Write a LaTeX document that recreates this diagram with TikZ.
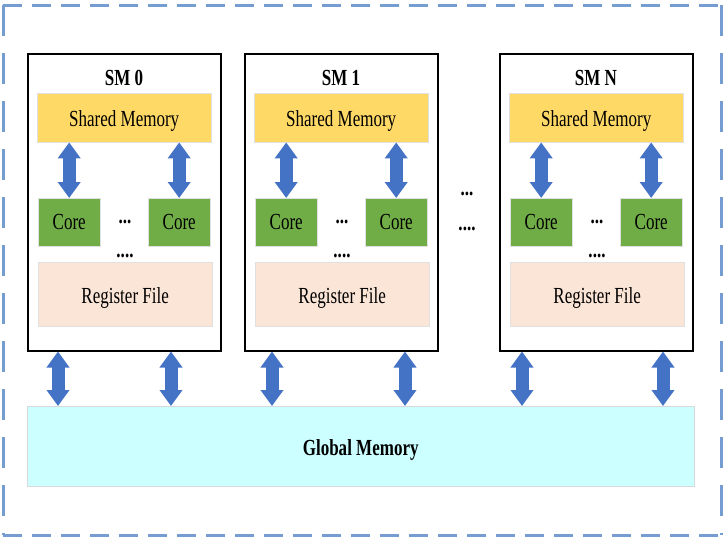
\documentclass[tikz,border=0pt]{standalone}
\usepackage{fontspec}
\setmainfont{Liberation Serif}[FakeStretch=0.74]
\usepackage{xcolor}
\usepackage{tikz}
\usetikzlibrary{positioning,calc,arrows.meta}
\definecolor{dashblue}{RGB}{117,157,209}
\definecolor{arrowblue}{RGB}{68,114,196}
\definecolor{shyellow}{RGB}{255,217,102}
\definecolor{coregreen}{RGB}{112,173,71}
\definecolor{regpeach}{RGB}{251,229,214}
\definecolor{gmcyan}{RGB}{204,255,255}
\tikzset{
    every node/.style={font=\fontsize{23}{27}\selectfont, inner sep=0pt},
    smbox/.style={draw=black, line width=1.5pt, anchor=north west, minimum width=193pt, minimum height=297pt},
    shmem/.style={fill=shyellow, draw=black!12, anchor=north west, minimum width=174pt, minimum height=49pt},
    corebox/.style={fill=coregreen, draw=black!12, anchor=north west, minimum width=62pt, minimum height=48pt},
    regfile/.style={fill=regpeach, draw=black!12, anchor=north west, minimum width=174pt, minimum height=64pt},
    gmem/.style={fill=gmcyan, draw=black!15, anchor=north west, minimum width=667pt, minimum height=80pt},
    dots/.style={font=\fontsize{23}{27}\selectfont\bfseries},
    dblarrow/.style={arrowblue, line width=13pt, {Triangle[length=16pt,width=22pt]}-{Triangle[length=16pt,width=22pt]}},
    outer/.style={dashblue, line width=3pt}
}

\begin{document}
\begin{tikzpicture}[x=1pt,y=-1pt]
    \useasboundingbox (0,0) rectangle (725,541);
    % outer frame
    \draw[outer, dash pattern=on 19pt off 10pt] (3,5) -- (721,5) (3,535) -- (721,535);
    \draw[outer, dash pattern=on 31pt off 17pt] (3,5) -- (3,535) (721,5) -- (721,535);
    % global memory
    \node[gmem] (gm) at (27,406) {};
    \node[font=\fontsize{23}{27}\selectfont\bfseries] (gmtxt) at ($(gm.center)+(0,4)$) {Global Memory};
    % streaming multiprocessors
    \foreach \i/\x/\t/\a/\b in {0/27/0/31/144, 1/244/1/28/161, 2/499/N/23/164} {
        \node[smbox] (sm\i) at (\x,53) {};
        \node[font=\fontsize{23}{27}\selectfont\bfseries] (tl\i) at (\x+97,78) {SM \t};
        \node[shmem] (sh\i) at (\x+10,93) {};
        \node (shtxt\i) at ($(sh\i.center)+(0,3)$) {Shared Memory};
        \node[corebox] (ca\i) at (\x+11,198) {Core};
        \node[corebox] (cb\i) at (\x+121,198) {Core};
        \node[dots] (dt\i) at (\x+98,222) {...};
        \node[dots] (dd\i) at (\x+98,256) {....};
        \node[regfile] (rf\i) at (\x+11,262) {};
        \node (rftxt\i) at ($(rf\i.center)+(0,4)$) {Register File};
        \draw[dblarrow] (sh\i.south -| ca\i) -- (ca\i.north);
        \draw[dblarrow] (sh\i.south -| cb\i) -- (cb\i.north);
        \draw[dblarrow] ([xshift=\a pt]sm\i.south west) -- ([xshift=\a pt]sm\i.south west |- gm.north);
        \draw[dblarrow] ([xshift=\b pt]sm\i.south west) -- ([xshift=\b pt]sm\i.south west |- gm.north);
    }
    % dots between SMs
    \node[dots] (mid1) at (467,194) {...};
    \node[dots] (mid2) at (467,229) {....};
\end{tikzpicture}
\end{document}
